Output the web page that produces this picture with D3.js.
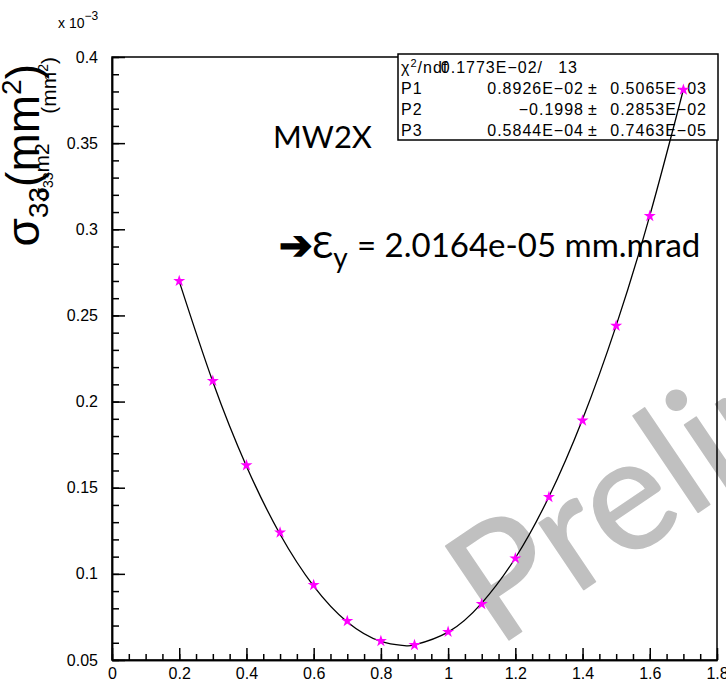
<!DOCTYPE html>
<meta charset="utf-8">
<style>
body { margin: 0; background: #fff; }
.axis text { font-family: "Liberation Sans", Arial, sans-serif; font-size: 16px; fill: #000; }
.axis path, .axis line { stroke: #000; stroke-width: 1.5px; }
.stats text { font-family: "Liberation Sans", Arial, sans-serif; font-size: 16px; letter-spacing: 1px; }
.comic { font-family: "Comic Sans MS", Lato, sans-serif; }
</style>
<svg width="726" height="681"></svg>
<script src="https://d3js.org/d3.v7.min.js"></script>
<script>
// values in units of 1e-3 mm^2
var kValues = [0.2, 0.3, 0.4, 0.5, 0.6, 0.7, 0.8, 0.9, 1.0, 1.1, 1.2, 1.3, 1.4, 1.5, 1.6, 1.7];
var sigmaValues = [0.270, 0.212, 0.163, 0.124, 0.0935, 0.0726, 0.061, 0.0587, 0.0663, 0.0825, 0.109, 0.1446, 0.189, 0.244, 0.3077, 0.381];

// fitted curve
var fitK = [0.2, 0.3, 0.4, 0.5, 0.6, 0.7, 0.8, 0.87, 0.9, 1.0, 1.1, 1.2, 1.3, 1.4, 1.5, 1.6, 1.7];
var fitSigma = [0.2698, 0.2115, 0.1625, 0.1230, 0.0929, 0.0721, 0.0608, 0.0584, 0.0588, 0.0662, 0.0830, 0.1092, 0.1448, 0.1898, 0.2441, 0.3079, 0.3811];

var xTicks = [0, 0.2, 0.4, 0.6, 0.8, 1, 1.2, 1.4, 1.6, 1.8];
var xTickLabels = ["0", "0.2", "0.4", "0.6", "0.8", "1", "1.2", "1.4", "1.6", "1.8"];
var yTicks = [0.05, 0.1, 0.15, 0.2, 0.25, 0.3, 0.35, 0.4];
var yTickLabels = ["0.05", "0.1", "0.15", "0.2", "0.25", "0.3", "0.35", "0.4"];

var statNames = ["P1", "P2", "P3"];
var statValues = ["0.8926E\u221202", "\u22120.1998", "0.5844E\u221204"];
var statErrors = ["0.5065E\u221203", "0.2853E\u221202", "0.7463E\u221205"];

var svg = d3.select("svg"),
    margin = {top: 57, right: 9, bottom: 21, left: 112},
    width = +svg.attr("width") - margin.left - margin.right,
    height = +svg.attr("height") - margin.top - margin.bottom;

var x = d3.scaleLinear().domain([0, 1.8]).range([margin.left, margin.left + width]);
var y = d3.scaleLinear().domain([0.05, 0.4]).range([margin.top + height, margin.top]);

// watermark (drawn first, under everything)
svg.append("text")
    .attr("class", "comic")
    .attr("transform", "translate(497,648) rotate(-34)")
    .attr("font-size", 158)
    .attr("fill", "#c0c0c0")
    .attr("stroke", "#c0c0c0")
    .attr("stroke-width", 1.5)
    .attr("stroke-linejoin", "round")
    .text("Preliminary");

// minor ticks
svg.append("g")
    .attr("class", "axis")
    .attr("transform", "translate(0," + (margin.top + height) + ")")
    .call(d3.axisBottom(x).tickValues(d3.range(0, 37).map(function(i) { return i * 0.05; }))
        .tickSizeInner(-6).tickSizeOuter(0).tickFormat(""));

svg.append("g")
    .attr("class", "axis")
    .attr("transform", "translate(" + margin.left + ",0)")
    .call(d3.axisLeft(y).tickValues(d3.range(0, 36).map(function(i) { return 0.05 + i * 0.01; }))
        .tickSizeInner(-7).tickSizeOuter(0).tickFormat(""));

// major ticks + labels
svg.append("g")
    .attr("class", "axis")
    .attr("transform", "translate(0," + (margin.top + height) + ")")
    .call(d3.axisBottom(x).tickValues(xTicks)
        .tickSizeInner(-12).tickSizeOuter(0).tickPadding(8)
        .tickFormat(function(d, i) { return xTickLabels[i]; }));

svg.append("g")
    .attr("class", "axis")
    .attr("transform", "translate(" + margin.left + ",0)")
    .call(d3.axisLeft(y).tickValues(yTicks)
        .tickSizeInner(-13).tickSizeOuter(0).tickPadding(14)
        .tickFormat(function(d, i) { return yTickLabels[i]; }));

// frame
svg.append("rect")
    .attr("x", x(0)).attr("y", y(0.4))
    .attr("width", x(1.8) - x(0)).attr("height", y(0.05) - y(0.4))
    .attr("fill", "none").attr("stroke", "#000").attr("stroke-width", 1.5);

// exponent label
var expo = svg.append("text")
    .attr("x", 58).attr("y", 28)
    .attr("font-family", "Liberation Sans, Arial, sans-serif")
    .attr("font-size", 14);
expo.append("tspan").text("x 10");
expo.append("tspan").attr("dy", -8).attr("font-size", 12).text("\u22123");

// y titles (big and small overlapping)
var bigTitle = svg.append("text")
    .attr("transform", "translate(39,64) rotate(-90)")
    .attr("text-anchor", "end")
    .attr("font-family", "Liberation Sans, Arial, sans-serif")
    .attr("font-size", 46);
bigTitle.append("tspan").text("\u03c3");
bigTitle.append("tspan").attr("dy", 9).attr("font-size", 28).text("33");
bigTitle.append("tspan").attr("dy", -9).text("(mm");
bigTitle.append("tspan").attr("dy", -18).attr("font-size", 28).text("2");
bigTitle.append("tspan").attr("dy", 18).text(")");

var smallTitle = svg.append("text")
    .attr("transform", "translate(49,201) rotate(-90)")
    .attr("font-family", "Liberation Sans, Arial, sans-serif")
    .attr("font-size", 21);
smallTitle.append("tspan").text("\u03c3");
smallTitle.append("tspan").attr("dy", 4).attr("font-size", 14).text("33");
smallTitle.append("tspan").attr("dy", -4).text("m2");

var smallTitle2 = svg.append("text")
    .attr("transform", "translate(56,57) rotate(-90)")
    .attr("text-anchor", "end")
    .attr("font-family", "Liberation Sans, Arial, sans-serif")
    .attr("font-size", 21);
smallTitle2.append("tspan").text("(mm");
smallTitle2.append("tspan").attr("dy", -8).attr("font-size", 14).text("2");
smallTitle2.append("tspan").attr("dy", 8).text(")");

// stats box
var stats = svg.append("g").attr("class", "stats");
stats.append("rect")
    .attr("x", 398).attr("y", 54).attr("width", 320).attr("height", 86)
    .attr("fill", "#fff").attr("stroke", "#000").attr("stroke-width", 1.5);

var chi = stats.append("text").attr("x", 401).attr("y", 73);
chi.append("tspan").text("\u03c7");
chi.append("tspan").attr("dy", -6).attr("font-size", 11).text("2");
chi.append("tspan").attr("dy", 6).text("/ndf");
stats.append("text").attr("x", 543).attr("y", 73).attr("text-anchor", "end").text("0.1773E\u221202/");
stats.append("text").attr("x", 578).attr("y", 73).attr("text-anchor", "end").text("13");

statNames.forEach(function(name, i) {
  var yy = 94 + i * 21;
  stats.append("text").attr("x", 401).attr("y", yy).text(name);
  stats.append("text").attr("x", 584).attr("y", yy).attr("text-anchor", "end").text(statValues[i]);
  stats.append("text").attr("x", 593).attr("y", yy).attr("text-anchor", "middle").text("\u00b1");
  stats.append("text").attr("x", 707).attr("y", yy).attr("text-anchor", "end").text(statErrors[i]);
});

// fit curve
var line = d3.line()
    .x(function(d, i) { return x(fitK[i]); })
    .y(function(d) { return y(d); })
    .curve(d3.curveNatural);

svg.append("path")
    .datum(fitSigma)
    .attr("d", line)
    .attr("fill", "none")
    .attr("stroke", "#000")
    .attr("stroke-width", 1.3);

// data points
svg.append("g")
  .selectAll("path")
  .data(sigmaValues)
  .enter().append("path")
    .attr("transform", function(d, i) { return "translate(" + x(kValues[i]) + "," + y(d) + ")"; })
    .attr("d", d3.symbol().type(d3.symbolStar).size(45))
    .attr("fill", "#ff00ff");

// labels
svg.append("text")
    .attr("class", "comic")
    .attr("x", 273).attr("y", 148)
    .attr("font-size", 31)
    .text("MW2X");

svg.append("text")
    .attr("x", 279).attr("y", 259)
    .attr("font-family", "DejaVu Sans")
    .attr("font-size", 40)
    .attr("stroke", "#000")
    .attr("stroke-width", 1.5)
    .text("\u2794");

var emit = svg.append("text")
    .attr("class", "comic")
    .attr("x", 312).attr("y", 258)
    .attr("font-size", 36);
emit.append("tspan").text("\u0190");
emit.append("tspan").attr("dy", 10).attr("font-size", 28).text("y");

svg.append("text")
    .attr("class", "comic")
    .attr("x", 357).attr("y", 257)
    .attr("font-size", 33)
    .text("= 2.0164e-05 mm.mrad");
</script>
